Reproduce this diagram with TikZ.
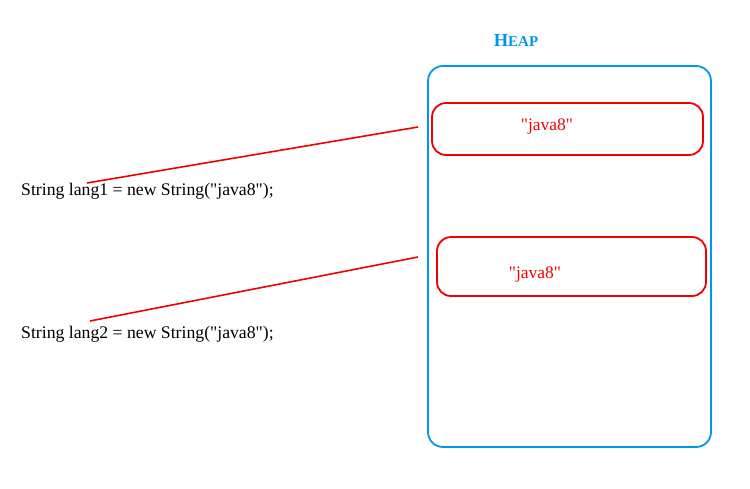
\documentclass[tikz,border=0pt]{standalone}
\usepackage{fontspec}
\setmainfont{Liberation Serif}[Ligatures=TeXOff]
\usetikzlibrary{positioning}
\definecolor{heapblue}{RGB}{0,150,240}
\definecolor{strred}{RGB}{240,0,0}
\newcommand{\qd}{\symbol{34}}

\begin{document}
\begin{tikzpicture}[x=1pt,y=-1pt, every node/.style={inner sep=0pt},
        code/.style={anchor=west,font=\fontsize{17.7}{20}\selectfont},
        strobj/.style={draw=strred,line width=1.8pt,rounded corners=14pt},
        strtext/.style={text=strred,font=\fontsize{17.5}{20}\selectfont},
        ref/.style={draw=strred,line width=1.6pt}]
        \useasboundingbox (0,0) rectangle (750,488);
                \draw[heapblue,line width=1.8pt,rounded corners=15pt] (428,66) rectangle (711,447);
                \node[text=heapblue,font=\bfseries] (heap) at (516,40) {{\fontsize{18.5}{20}\selectfont H}{\fontsize{15}{20}\selectfont EAP}};

                \draw[strobj] (432,103) rectangle (703,155);
                \node[strtext]  (s1) at (547,127) {\qd java8\qd};
                \draw[strobj] (437,237) rectangle (706,296);
                \node[strtext]  (s2) at (535,275) {\qd java8\qd};

                \node[code]     (lang1) at (21,191) {String lang1 = new String(\qd java8\qd);};
                \node[code]     (lang2) at (21,334) {String lang2 = new String(\qd java8\qd);};

                \coordinate     (a1) at (87,183);
                \coordinate     (b1) at (418,127);
                \coordinate     (a2) at (90,321);
                \coordinate     (b2) at (418,257);

            \draw[ref]  (a1) -- (b1);
            \draw[ref]  (a2) -- (b2);
        	\end{tikzpicture}
\end{document}
